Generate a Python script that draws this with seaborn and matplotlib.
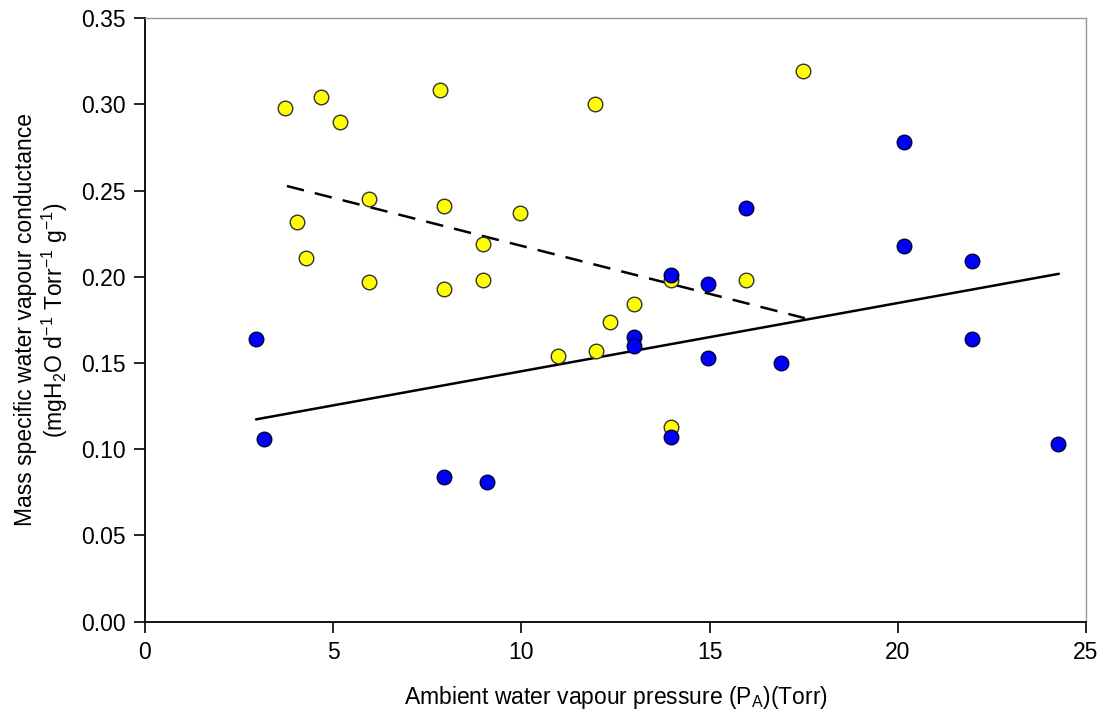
import matplotlib
matplotlib.use("Agg")
import matplotlib.pyplot as plt
import numpy as np
import pandas as pd
import seaborn as sns

# yellow group (dashed fit)
yellow_x = [3.73, 4.68, 5.17, 4.04, 4.28, 5.95, 5.95, 7.85, 7.95, 7.95, 8.98, 8.98,
            9.96, 11.96, 10.97, 11.97, 12.35, 12.98, 13.97, 13.97, 15.96, 17.47]
yellow_y = [0.298, 0.304, 0.290, 0.232, 0.211, 0.245, 0.197, 0.308, 0.241, 0.193, 0.219, 0.198,
            0.237, 0.300, 0.154, 0.157, 0.174, 0.184, 0.198, 0.113, 0.198, 0.319]

# blue group (solid fit)
blue_x = [2.95, 3.15, 7.95, 9.08, 12.98, 12.98, 13.97, 13.97, 14.97, 14.97,
          15.96, 16.89, 20.16, 20.16, 21.98, 21.98, 24.25]
blue_y = [0.164, 0.106, 0.084, 0.081, 0.165, 0.160, 0.201, 0.107, 0.196, 0.153,
          0.240, 0.150, 0.278, 0.218, 0.209, 0.164, 0.103]

# fitted lines
yellow_fit_x = [3.77, 17.53]
yellow_fit_y = [0.2526, 0.1760]
blue_fit_x = [2.95, 24.28]
blue_fit_y = [0.1173, 0.2017]

x_ticks = [0, 5, 10, 15, 20, 25]
y_ticks = [0.00, 0.05, 0.10, 0.15, 0.20, 0.25, 0.30, 0.35]

sns.set_style("white")
plt.rcParams["font.family"] = ["Liberation Sans", "DejaVu Sans"]
plt.rcParams["mathtext.fontset"] = "custom"
plt.rcParams["mathtext.rm"] = "Liberation Sans"
plt.rcParams["mathtext.it"] = "Liberation Sans"
plt.rcParams["text.color"] = "black"
plt.rcParams["axes.labelcolor"] = "black"
plt.rcParams["xtick.color"] = "black"
plt.rcParams["ytick.color"] = "black"

yellow = pd.DataFrame({"x": yellow_x, "y": yellow_y})
blue = pd.DataFrame({"x": blue_x, "y": blue_y})

fig = plt.figure(figsize=(11.06, 7.10), dpi=100)
ax = fig.add_axes([0.1311, 0.1244, 0.8508, 0.8502])

sns.lineplot(x=yellow_fit_x, y=yellow_fit_y, ax=ax, color="black", lw=1.8,
             linestyle=(0, (7, 4.5)), zorder=2)
sns.lineplot(x=blue_fit_x, y=blue_fit_y, ax=ax, color="black", lw=1.8, zorder=2)
sns.scatterplot(data=yellow, x="x", y="y", ax=ax, color="#ffff00", edgecolor="#333333",
                linewidth=1.0, s=110, zorder=3)
sns.scatterplot(data=blue, x="x", y="y", ax=ax, color="#0000ff", edgecolor="#000033",
                linewidth=1.0, s=110, zorder=4)

ax.set_xlim(0, 25)
ax.set_ylim(0, 0.35)
ax.set_xticks(x_ticks)
ax.set_yticks(y_ticks)
ax.set_yticklabels([f"{v:.2f}" for v in y_ticks])
ax.tick_params(axis="both", direction="out", length=8, width=1.2, labelsize=16.5,
               color="black", labelcolor="black", left=True, bottom=True, pad=6)

for side in ["left", "bottom"]:
    ax.spines[side].set_color("black")
    ax.spines[side].set_linewidth(1.3)
for side in ["top", "right"]:
    ax.spines[side].set_color("#999999")
    ax.spines[side].set_linewidth(1.0)

ax.set_xlabel("Ambient water vapour pressure (P$_\\mathregular{A}$)(Torr)", fontsize=16.5, labelpad=14)
ax.set_ylabel("Mass specific water vapour conductance\n"
              "(mgH$_\\mathregular{2}$O d$^\\mathregular{-1}$ Torr$^\\mathregular{-1}$ g$^\\mathregular{-1}$)",
              fontsize=16.5, labelpad=8, linespacing=1.1)

fig.savefig("out.png", dpi=100)
